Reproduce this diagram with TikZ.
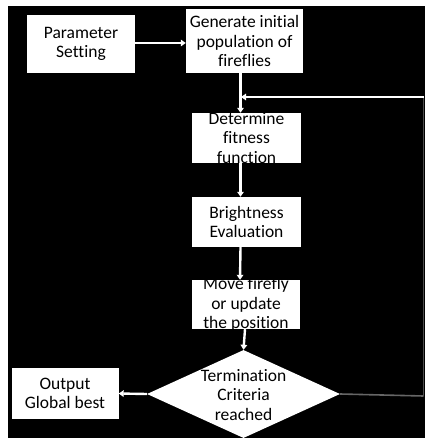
\documentclass[tikz,border=0pt]{standalone}
\usepackage{fontspec}
\setmainfont[Ligatures={NoCommon}]{Carlito}
\usetikzlibrary{shapes.geometric,arrows.meta}
\begin{document}
\begin{tikzpicture}[x=1pt,y=-1pt,
  font=\fontsize{17.5}{19.5}\selectfont,
  box/.style={fill=white,draw=none,inner sep=0pt,rectangle},
  boxtext/.style={align=center,inner sep=0pt,text=black},
  decision/.style={diamond,fill=white,draw=none,inner sep=0pt,
    minimum width=193pt,minimum height=88pt},
  flow/.style={draw=white,line width=2.4pt,
    -{Triangle[width=6.5pt,length=5pt]}},
  loopline/.style={draw=black!60,line width=1.6pt},
  returnline/.style={draw=black!70,line width=1pt}]
% canvas
\useasboundingbox (0,0) rectangle (425,438);
\fill[white] (0,0) rectangle (425,438);
\fill[black] (8,6) rectangle (425,438);

% process boxes
\node[box,minimum width=108pt,minimum height=58pt,
  label={[boxtext]center:Parameter\\Setting}] (param) at (81,44) {};
\node[box,minimum width=117pt,minimum height=64pt,
  label={[boxtext]center:Generate initial\\population of\\fireflies}] (gen) at (244.5,41) {};
\node[box,minimum width=109pt,minimum height=50pt,
  label={[boxtext]center:Determine\\fitness\\function}] (det) at (246.5,138) {};
\node[box,minimum width=109pt,minimum height=50pt,
  label={[boxtext]center:Brightness\\Evaluation}] (bright) at (246.5,222) {};
\node[box,minimum width=108pt,minimum height=49pt,
  label={[boxtext]center:Move firefly\\or update\\the position}] (move) at (246,304.5) {};
\node[decision,
  label={[boxtext,yshift=-1pt]center:Termination\\Criteria\\reached}] (term) at (243.5,394) {};
\node[box,minimum width=107pt,minimum height=51pt,
  label={[boxtext]center:Output\\Global best}] (out) at (65,393.5) {};

% connectors
\coordinate (corner) at (423.5,396);
\coordinate (join) at (423.5,97);
\draw[flow] ([yshift=1pt]param.east) -- ([yshift=1pt]param.east -| gen.west);
\draw[flow] ([xshift=-4pt]gen.south) -- ([xshift=-6pt]det.north);
\draw[flow] ([xshift=-6pt]det.south) -- ([xshift=-6pt]bright.north);
\draw[flow] ([xshift=-6pt]bright.south) -- ([xshift=-6pt]move.north);
\draw[flow] ([xshift=-1pt]move.south) -- (term.north);
\draw[flow] (term.west) -- (out.east);
\draw[loopline] (term.east) -- (corner);
\draw[returnline] (corner) -- (join);
\draw[flow] (join) -- (241,97);
\end{tikzpicture}
\end{document}
